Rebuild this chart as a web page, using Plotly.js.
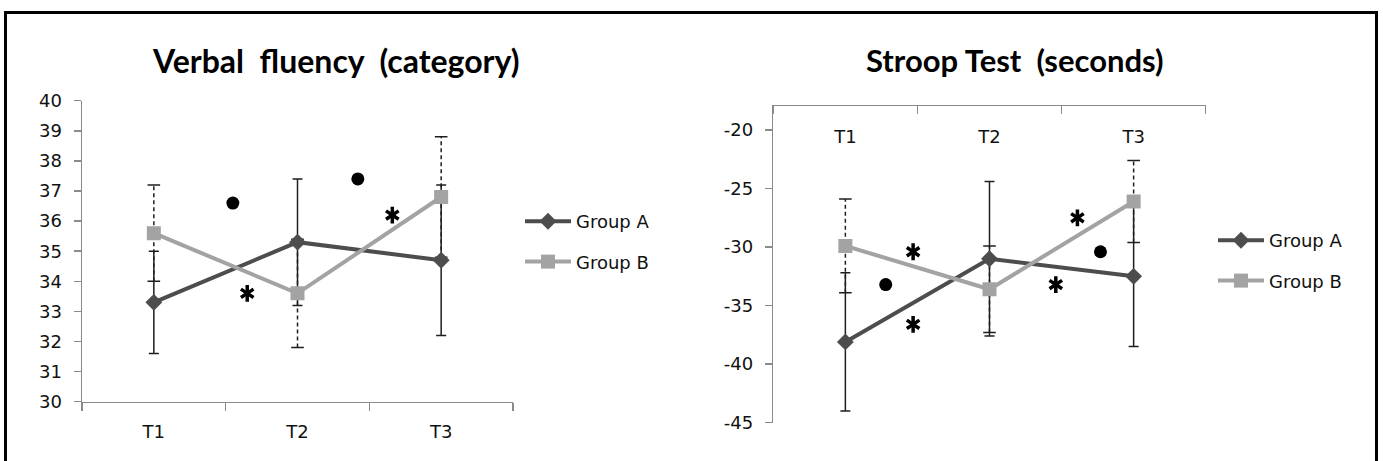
<!DOCTYPE html>
<html>
<head>
<meta charset="utf-8">
<script src="https://cdn.plot.ly/plotly-3.0.1.min.js"></script>
<style>
  html, body { margin:0; padding:0; background:#fff; overflow:hidden; }
  #wrap { position:relative; width:1383px; height:461px; }
  #chart { position:absolute; left:0; top:0; width:1383px; height:461px; }
  #frame { position:absolute; left:4px; top:11px; width:1374px; height:520px; box-sizing:border-box; border:3px solid #000; pointer-events:none; }
</style>
</head>
<body>
<div id="wrap"><div id="chart"></div><div id="frame"></div></div>
<script>
// ---------- data ----------
const categories = ['T1', 'T2', 'T3'];
const seriesNames = ['Group A', 'Group B'];
const titles = ['Verbal\u00a0 fluency\u00a0 (category)', 'Stroop Test\u00a0 (seconds)'];

// Verbal fluency (category)
const verbalA = [33.3, 35.3, 34.7];
const verbalAErr = [1.7, 2.1, 2.5];
const verbalB = [35.6, 33.6, 36.8];
const verbalBErr = [1.6, 1.8, 2.0];
const verbalTicks = [30, 31, 32, 33, 34, 35, 36, 37, 38, 39, 40];

// Stroop Test (seconds)
const stroopA = [-38.1, -31.0, -32.5];
const stroopAErr = [5.9, 6.6, 6.0];
const stroopB = [-29.9, -33.6, -26.1];
const stroopBErr = [4.0, 3.7, 3.5];
const stroopTickVals = [-45, -40, -35, -30, -25, -20];
const stroopTickText = ['-45', '-40', '-35', '-30', '-25', '-20'];

// significance marks (position on category index scale, value scale)
const verbalDotX = [0.55, 1.42];
const verbalDotY = [36.6, 37.4];
const verbalStarX = [0.65, 1.66];
const verbalStarY = [33.6, 36.2];
const stroopDotX = [0.28, 1.77];
const stroopDotY = [-33.2, -30.4];
const stroopStarX = [0.47, 0.47, 1.61, 1.46];
const stroopStarY = [-30.4, -36.6, -27.5, -33.2];

// ---------- styling ----------
const W = 1383, H = 461;
const colA = '#4d4d4d';
const colB = '#a3a3a3';
const errCol = '#1e1e1e';
const axisCol = '#8a8a8a';
const textCol = '#111';
const tickFont = {family: 'DejaVu Sans', size: 18, color: textCol};
const idx = categories.map((c, i) => i);

function dashedErr(vals, errs, xa, ya) {
  const x = [], y = [];
  vals.forEach((v, i) => { x.push(i, i, null); y.push(v - errs[i], v + errs[i], null); });
  return {
    x: x, y: y, xaxis: xa, yaxis: ya, type: 'scatter', mode: 'lines+markers',
    line: {color: errCol, width: 1.5, dash: '4px,3px'},
    marker: {symbol: 'line-ew-open', size: 9, line: {color: errCol, width: 1.5}},
    showlegend: false, hoverinfo: 'skip'
  };
}
function seriesA(vals, errs, xa, ya, lg) {
  return {
    x: idx, y: vals, xaxis: xa, yaxis: ya, type: 'scatter', mode: 'lines+markers',
    name: seriesNames[0], legend: lg, legendgroup: lg + 'a',
    line: {color: colA, width: 4},
    marker: {symbol: 'diamond', size: 13, color: colA},
    error_y: {type: 'data', array: errs, visible: true, color: errCol, thickness: 1.5, width: 5}
  };
}
function seriesB(vals, xa, ya, lg) {
  return {
    x: idx, y: vals, xaxis: xa, yaxis: ya, type: 'scatter', mode: 'lines+markers',
    name: seriesNames[1], legend: lg, legendgroup: lg + 'b',
    line: {color: colB, width: 4},
    marker: {symbol: 'square', size: 14, color: colB}
  };
}
function dots(xs, ys, xa, ya) {
  return {x: xs, y: ys, xaxis: xa, yaxis: ya, type: 'scatter', mode: 'markers',
    marker: {symbol: 'circle', size: 13, color: '#000'}, showlegend: false, hoverinfo: 'skip'};
}
function stars(xs, ys, xa, ya) {
  // six-armed asterisk built from an upright and an inverted "Y" mark
  return ['y-up-open', 'y-down-open'].map(sym => ({
    x: xs, y: ys, xaxis: xa, yaxis: ya, type: 'scatter', mode: 'markers',
    marker: {symbol: sym, size: 10.5, color: '#000', line: {color: '#000', width: 3.5}},
    showlegend: false, hoverinfo: 'skip'}));
}

const traces = [
  dashedErr(verbalB, verbalBErr, 'x', 'y'),
  seriesA(verbalA, verbalAErr, 'x', 'y', 'legend'),
  seriesB(verbalB, 'x', 'y', 'legend'),
  dots(verbalDotX, verbalDotY, 'x', 'y'),
  ...stars(verbalStarX, verbalStarY, 'x', 'y'),
  dashedErr(stroopB, stroopBErr, 'x2', 'y2'),
  seriesA(stroopA, stroopAErr, 'x2', 'y2', 'legend2'),
  seriesB(stroopB, 'x2', 'y2', 'legend2'),
  dots(stroopDotX, stroopDotY, 'x2', 'y2'),
  ...stars(stroopStarX, stroopStarY, 'x2', 'y2')
];

const px = v => v / W;
const py = v => 1 - v / H;

const minorTicks = {tickmode: 'array', tickvals: [-0.5, 0.5, 1.5, 2.5], ticklen: 8, tickcolor: axisCol, tickwidth: 1.5, showgrid: false};

const legendBase = {
  font: {family: 'DejaVu Sans', size: 18, color: textCol},
  bgcolor: 'rgba(0,0,0,0)', borderwidth: 0, traceorder: 'grouped', tracegroupgap: 14,
  xanchor: 'left', yanchor: 'top', itemwidth: 46
};

const layout = {
  width: W, height: H, margin: {l: 0, r: 0, t: 0, b: 0},
  paper_bgcolor: '#fff', plot_bgcolor: 'rgba(0,0,0,0)',
  xaxis: {domain: [px(82), px(513)], anchor: 'y', side: 'bottom', range: [-0.5, 2.5],
    tickmode: 'array', tickvals: idx, ticktext: categories, ticks: '',
    showline: true, linecolor: axisCol, linewidth: 1.5, showgrid: false, zeroline: false,
    tickfont: tickFont, fixedrange: true, ticklabelstandoff: 13,
    minor: Object.assign({}, minorTicks, {ticks: 'outside'})},
  yaxis: {domain: [py(401.7), py(100.7)], range: [30, 40], anchor: 'x', tickmode: 'array', tickvals: verbalTicks,
    ticks: 'outside', ticklen: 7, tickcolor: axisCol, tickwidth: 1.5, showline: true, linecolor: axisCol, linewidth: 1.5,
    showgrid: false, zeroline: false, tickfont: tickFont, ticklabelstandoff: 8, fixedrange: true},
  xaxis2: {domain: [px(773.3), px(1205.7)], anchor: 'y2', side: 'top', range: [-0.5, 2.5],
    tickmode: 'array', tickvals: idx, ticktext: categories, ticks: '', showticklabels: false,
    showline: true, linecolor: axisCol, linewidth: 1.5, showgrid: false, zeroline: false, fixedrange: true,
    minor: Object.assign({}, minorTicks, {ticks: 'inside'})},
  xaxis3: {overlaying: 'x2', matches: 'x2', anchor: 'free', position: py(124), side: 'bottom',
    tickmode: 'array', tickvals: idx, ticktext: categories, ticks: '', showline: false,
    showgrid: false, zeroline: false, tickfont: tickFont, fixedrange: true},
  yaxis2: {domain: [py(422.7), py(106)], range: [-45, -17.95], anchor: 'x2', tickmode: 'array',
    tickvals: stroopTickVals, ticktext: stroopTickText,
    ticks: 'outside', ticklen: 7, tickcolor: axisCol, tickwidth: 1.5, showline: true, linecolor: axisCol, linewidth: 1.5,
    showgrid: false, zeroline: false, tickfont: tickFont, ticklabelstandoff: 8, fixedrange: true},
  legend: Object.assign({}, legendBase, {x: px(520), y: py(203)}),
  legend2: Object.assign({}, legendBase, {x: px(1213), y: py(222)}),
  annotations: [
    {text: titles[0], xref: 'paper', yref: 'paper', x: px(336), y: py(60),
     xanchor: 'center', yanchor: 'middle', showarrow: false,
     font: {family: 'Lato', size: 32, color: '#000', weight: 'bold'}},
    {text: titles[1], xref: 'paper', yref: 'paper', x: px(1015), y: py(60),
     xanchor: 'center', yanchor: 'middle', showarrow: false,
     font: {family: 'Lato', size: 31, color: '#000', weight: 'bold'}}
  ]
};

// an invisible trace so the label-only axis x3 is drawn
traces.push({x: [idx[0]], y: [stroopA[0]], xaxis: 'x3', yaxis: 'y2', type: 'scatter', mode: 'markers',
  marker: {opacity: 0}, showlegend: false, hoverinfo: 'skip'});

Plotly.newPlot('chart', traces, layout, {displayModeBar: false, staticPlot: true});
</script>
</body>
</html>
